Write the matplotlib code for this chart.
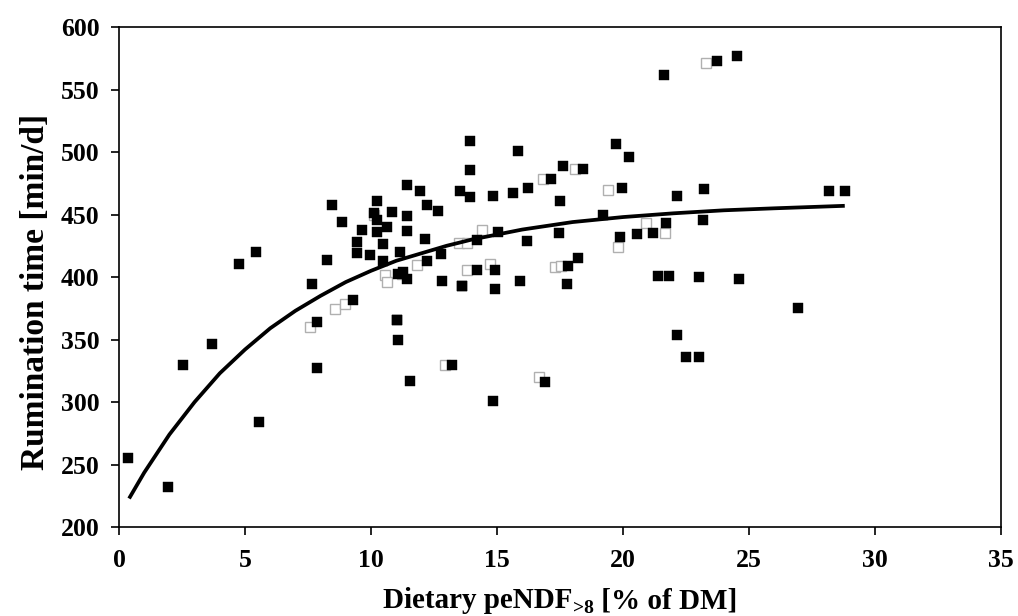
import matplotlib
matplotlib.use("Agg")
import matplotlib.pyplot as plt

# Observed data points (peNDF>8 % of DM, rumination time min/d)
pendf = [0.37, 1.96, 2.55, 3.68, 4.76, 5.45, 5.56, 7.65, 7.84, 7.84,
         8.24, 8.44, 8.84, 9.3, 9.43, 9.46, 9.63, 9.96, 10.1, 10.25,
         10.22, 10.22, 10.46, 10.46, 10.62, 10.82, 11.15, 11.02, 11.08, 11.28,
         11.44, 11.44, 11.44, 11.44, 11.55, 11.94, 12.14, 12.21, 12.21, 12.67,
         12.76, 12.8, 13.2, 13.53, 13.6, 13.93, 13.93, 13.93, 14.19, 14.2,
         14.85, 14.83, 14.92, 14.92, 15.03, 15.62, 15.85, 15.91, 16.18, 16.24,
         16.9, 17.16, 17.5, 17.48, 17.63, 17.79, 17.83, 18.23, 18.43, 19.2,
         19.72, 19.98, 20.23, 19.88, 20.54, 21.18, 21.7, 21.4, 21.84, 21.64,
         22.13, 22.13, 22.5, 23.03, 23.02, 23.16, 23.21, 23.74, 24.54, 24.62,
         26.96, 28.19, 28.81, 11.06, 11.02, 13.6]
rumination = [255.4, 232.0, 329.6, 346.8, 410.7, 420.0, 284.4, 394.6, 364.0, 327.4,
              413.4, 457.8, 444.0, 382.0, 419.4, 427.7, 437.6, 417.5, 451.0, 461.0,
              445.7, 436.3, 426.4, 412.9, 440.3, 451.9, 420.2, 365.8, 402.7, 404.0,
              473.4, 449.2, 436.8, 398.7, 316.7, 468.5, 430.4, 457.8, 412.6, 453.0,
              418.8, 396.8, 330.0, 469.0, 392.6, 509.0, 486.0, 464.0, 405.9, 429.6,
              300.6, 465.0, 405.4, 390.6, 436.3, 467.5, 500.8, 396.5, 428.8, 471.0,
              316.0, 478.8, 460.8, 434.9, 488.5, 394.6, 409.0, 415.5, 486.8, 450.0,
              506.7, 471.5, 496.0, 431.7, 434.3, 435.6, 443.5, 400.8, 400.8, 561.3,
              465.2, 353.8, 336.3, 336.3, 400.0, 445.3, 470.7, 572.8, 576.6, 398.7,
              375.3, 469.0, 468.5, 349.8, 365.9, 392.6]

# Faint, partly hidden squares (overlapping observations)
ghost_x = [7.58, 8.57, 8.97, 10.56, 10.62, 11.22, 11.81, 12.95, 16.66, 13.5,
           13.8, 14.39, 13.8, 14.72, 17.3, 17.55, 16.84, 18.1, 19.4, 20.91,
           21.67, 19.8, 23.3, 10.1]
ghost_y = [360.0, 374.5, 378.5, 401.3, 396.0, 402.7, 409.4, 330.0, 320.0, 427.0,
           427.0, 437.6, 406.0, 410.7, 408.0, 409.0, 478.8, 486.8, 470.0, 443.0,
           435.0, 424.0, 571.0, 449.7]

# Fitted curve
curve_x = [0.4, 1, 2, 3, 4, 5, 6, 7, 8, 9, 10, 11, 12, 13, 14, 15, 16, 17, 18,
           19, 20, 22, 24, 26, 28.8]
curve_y = [222.8, 243.5, 274, 300, 323, 342, 359, 373, 385, 396, 405, 413, 419,
           425, 430, 434, 438, 441, 444, 446, 448, 451, 453.4, 455, 457]

x_ticks = [0, 5, 10, 15, 20, 25, 30, 35]
y_ticks = [200, 250, 300, 350, 400, 450, 500, 550, 600]

xlabel_main = 'Dietary peNDF'
xlabel_sub = '>8'
xlabel_tail = ' [% of DM]'
ylabel = 'Rumination time [min/d]'

plt.rcParams['font.family'] = ['Liberation Serif', 'DejaVu Serif']
plt.rcParams['font.weight'] = 'bold'

W, H = 1018, 616
fig = plt.figure(figsize=(W / 100, H / 100), dpi=100)
ax = fig.add_axes([0.1169, 0.1445, 0.8664, 0.8115])

ax.plot(ghost_x, ghost_y, linestyle='none', marker='s', markersize=7.5,
        markerfacecolor='white', markeredgecolor='#b0b0b0', markeredgewidth=1.0,
        zorder=2)
ax.plot(pendf, rumination, linestyle='none', marker='s', markersize=7.6,
        markerfacecolor='black', markeredgecolor='black', markeredgewidth=0.3,
        zorder=3)
ax.plot(curve_x, curve_y, color='black', linewidth=2.7, zorder=4,
        solid_capstyle='butt')

ax.set_xlim(0, 35)
ax.set_ylim(200, 600)
ax.set_xticks(x_ticks)
ax.set_yticks(y_ticks)
ax.tick_params(direction='out', length=6, width=1.2, labelsize=18.5)
ax.tick_params(axis='y', pad=8)
ax.tick_params(axis='x', pad=10)
for lab in ax.get_xticklabels() + ax.get_yticklabels():
    lab.set_fontweight('bold')
for sp in ax.spines.values():
    sp.set_linewidth(1.2)

ax.set_ylabel(ylabel, fontsize=24, fontweight='bold')
ax.yaxis.set_label_coords(-0.077, 0.47)

# x label built from pieces so the subscript sits tight
base_y = 1 - 608 / H
fig.canvas.draw()
renderer = fig.canvas.get_renderer()
t1 = fig.text(0, base_y, xlabel_main, fontsize=21, fontweight='bold', va='baseline')
t2 = fig.text(0, base_y - 5 / H, xlabel_sub, fontsize=14, fontweight='bold', va='baseline')
t3 = fig.text(0, base_y, xlabel_tail, fontsize=21, fontweight='bold', va='baseline')
w1 = t1.get_window_extent(renderer).width
w2 = t2.get_window_extent(renderer).width
w3 = t3.get_window_extent(renderer).width
total = w1 + w2 + w3
ax_bb = ax.get_window_extent(renderer)
cx = (ax_bb.x0 + ax_bb.x1) / 2
start = cx - total / 2
t1.set_x(start / W)
t2.set_x((start + w1) / W)
t3.set_x((start + w1 + w2) / W)

fig.savefig('out.png', dpi=100)
